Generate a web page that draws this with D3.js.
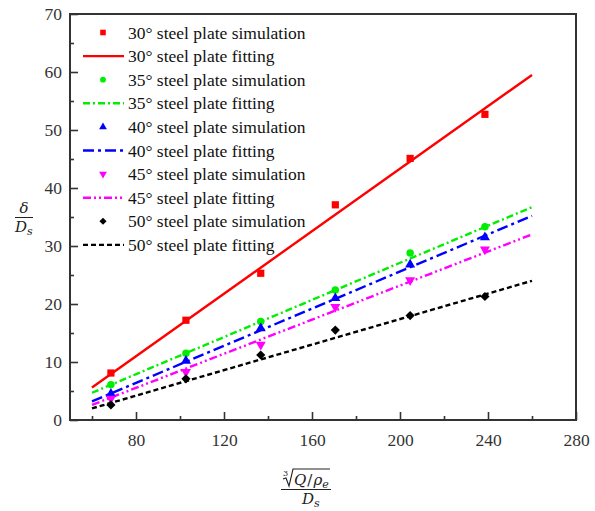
<!DOCTYPE html>
<html>
<head>
<meta charset="utf-8">
<script src="https://cdn.jsdelivr.net/npm/d3@7"></script>
<style>
  html, body { margin: 0; padding: 0; background: #fff; }
  svg { display: block; }
</style>
</head>
<body>
<svg id="chart" width="595" height="511"></svg>
<script>
// Scaled distance vs. scaled charge for five steel plate inclinations
const xValues = [68.6, 102.7, 136.7, 170.6, 204.6, 238.6];
const angles = ["30°", "35°", "40°", "45°", "50°"];
const sim30 = [8.1, 17.2, 25.3, 37.1, 45.1, 52.7];
const sim35 = [6.1, 11.5, 17.0, 22.4, 28.8, 33.3];
const sim40 = [4.5, 10.2, 15.8, 21.0, 26.8, 31.5];
const sim45 = [3.7, 8.3, 13.0, 19.5, 24.1, 29.4];
const sim50 = [2.6, 7.1, 11.2, 15.5, 18.0, 21.3];
// Linear fits, evaluated at both ends of the fitted range
const fitRange = [60, 260];
const fit30 = [5.6, 59.5];
const fit35 = [4.7, 36.7];
const fit40 = [3.2, 35.2];
const fit45 = [2.6, 32.0];
const fit50 = [2.0, 24.0];
const xTicks = [80, 120, 160, 200, 240, 280];
const xMinorTicks = [60, 100, 140, 180, 220, 260];
const yTicks = [0, 10, 20, 30, 40, 50, 60, 70];
const yMinorTicks = [5, 15, 25, 35, 45, 55, 65];

const series = [
  { angle: angles[0], sim: sim30, fit: fit30, color: "#ff0000", marker: "square",   dash: null },
  { angle: angles[1], sim: sim35, fit: fit35, color: "#00ee00", marker: "circle",   dash: "7,3,2,3" },
  { angle: angles[2], sim: sim40, fit: fit40, color: "#0000ff", marker: "triangle", dash: "11,4,3,4" },
  { angle: angles[3], sim: sim45, fit: fit45, color: "#ff00ff", marker: "down",     dash: "8,3,2,3,2,3" },
  { angle: angles[4], sim: sim50, fit: fit50, color: "#000000", marker: "diamond",  dash: "5,3" }
];

const svg = d3.select("#chart");
const m = { left: 70, top: 14, right: 576, bottom: 420 };
const x = d3.scaleLinear().domain([50, 280]).range([m.left, m.right]);
const y = d3.scaleLinear().domain([0, 70]).range([m.bottom, m.top]);

const serif = "\"Liberation Serif\"";
const math = "\"DejaVu Serif\"";
const axisColor = "#333";

// Frame
svg.append("rect")
  .attr("x", m.left).attr("y", m.top)
  .attr("width", m.right - m.left).attr("height", m.bottom - m.top)
  .attr("fill", "none").attr("stroke", axisColor).attr("stroke-width", 2);

// Bottom axis, ticks pointing inward
const gx = svg.append("g").attr("transform", `translate(0,${m.bottom})`);
gx.call(d3.axisBottom(x).tickValues(xTicks).tickSize(-8).tickPadding(14).tickFormat(d3.format("d")));
const gxMinor = svg.append("g").attr("transform", `translate(0,${m.bottom})`);
gxMinor.call(d3.axisBottom(x).tickValues(xMinorTicks).tickSize(-4).tickFormat(""));

// Left axis, ticks pointing inward
const gy = svg.append("g").attr("transform", `translate(${m.left},0)`);
gy.call(d3.axisLeft(y).tickValues(yTicks).tickSize(-8).tickPadding(8).tickFormat(d3.format("d")));
const gyMinor = svg.append("g").attr("transform", `translate(${m.left},0)`);
gyMinor.call(d3.axisLeft(y).tickValues(yMinorTicks).tickSize(-4).tickFormat(""));

[gx, gxMinor, gy, gyMinor].forEach(g => {
  g.select(".domain").remove();
  g.selectAll(".tick line").attr("stroke", axisColor).attr("stroke-width", 1.6);
  g.selectAll(".tick text")
    .attr("fill", "#333")
    .style("font-family", serif)
    .style("font-size", "17.5px");
});

// Marker shapes
function markerPath(kind, big) {
  const s = big ? 1 : 0.6;
  switch (kind) {
    case "square":   return d3.symbol(d3.symbolSquare, 52 * s)();
    case "circle":   return d3.symbol(d3.symbolCircle, 44 * s)();
    case "triangle": return d3.symbol(d3.symbolTriangle, 44 * s)();
    case "down":     return d3.symbol(d3.symbolTriangle, 44 * s)();
    case "diamond":  return d3.symbol(d3.symbolSquare, 42 * s)();
  }
}
function markerRotation(kind) {
  return kind === "down" ? 180 : kind === "diamond" ? 45 : 0;
}

const line = d3.line().x(d => x(d[0])).y(d => y(d[1]));
const plot = svg.append("g");

// Fitted lines
series.forEach(s => {
  plot.append("path")
    .datum([[fitRange[0], s.fit[0]], [fitRange[1], s.fit[1]]])
    .attr("d", line)
    .attr("fill", "none")
    .attr("stroke", s.color)
    .attr("stroke-width", 2.4)
    .attr("stroke-dasharray", s.dash);
});

// Simulation points
series.forEach(s => {
  plot.append("g").selectAll("path")
    .data(s.sim.map((v, i) => [xValues[i], v]))
    .join("path")
    .attr("d", markerPath(s.marker, true))
    .attr("transform", d => `translate(${x(d[0])},${y(d[1])}) rotate(${markerRotation(s.marker)})`)
    .attr("fill", s.color);
});

// Legend
const legend = svg.append("g");
const rowStep = 23.6, row0 = 32.5;
function legendText(yPos, label) {
  legend.append("text")
    .attr("x", 128).attr("y", yPos).attr("dy", "0.35em").attr("fill", "#111")
    .style("font-family", serif).style("font-size", "17.5px")
    .text(label);
}
series.forEach((s, i) => {
  const ySim = row0 + rowStep * (2 * i);
  const yFit = row0 + rowStep * (2 * i + 1);
  legend.append("path")
    .attr("d", markerPath(s.marker, false))
    .attr("transform", `translate(103,${ySim}) rotate(${markerRotation(s.marker)})`)
    .attr("fill", s.color);
  legendText(ySim, `${s.angle} steel plate simulation`);
  legend.append("line")
    .attr("x1", 83).attr("x2", 124).attr("y1", yFit).attr("y2", yFit)
    .attr("stroke", s.color).attr("stroke-width", 2.4)
    .attr("stroke-dasharray", s.dash);
  legendText(yFit, `${s.angle} steel plate fitting`);
});

// Axis titles
function mathText(parent, xPos, yPos, size) {
  return parent.append("text").attr("x", xPos).attr("y", yPos)
    .style("font-family", math).style("font-style", "italic")
    .style("font-size", size + "px").attr("fill", "#222");
}

// y: δ / D_s
const yl = svg.append("g");
mathText(yl, 24, 213, 15).attr("text-anchor", "middle").text("δ");
yl.append("line").attr("x1", 15).attr("x2", 33).attr("y1", 217.5).attr("y2", 217.5)
  .attr("stroke", "#222").attr("stroke-width", 1);
const ylD = mathText(yl, 15, 232, 15);
ylD.append("tspan").text("D");
ylD.append("tspan").attr("dy", 3).style("font-size", "11px").text("s");

// x: cube root of (Q/ρ_e) over D_s
const xl = svg.append("g");
mathText(xl, 283, 476, 8).style("font-style", "normal").text("3");
xl.append("path")
  .attr("d", "M283,479 L286,478 L289,486 L293,469 L330,469")
  .attr("fill", "none").attr("stroke", "#222").attr("stroke-width", 1.1);
const xq = mathText(xl, 294, 485, 15);
xq.append("tspan").text("Q");
xq.append("tspan").attr("dx", 1).style("font-style", "normal").text("/");
xq.append("tspan").attr("dx", 1).text("ρ");
xq.append("tspan").attr("dy", 3).style("font-size", "11px").text("e");
xl.append("line").attr("x1", 281).attr("x2", 331).attr("y1", 489.5).attr("y2", 489.5)
  .attr("stroke", "#222").attr("stroke-width", 1);
const xd = mathText(xl, 302, 504, 15);
xd.append("tspan").text("D");
xd.append("tspan").attr("dy", 3).style("font-size", "11px").text("s");
</script>
</body>
</html>
